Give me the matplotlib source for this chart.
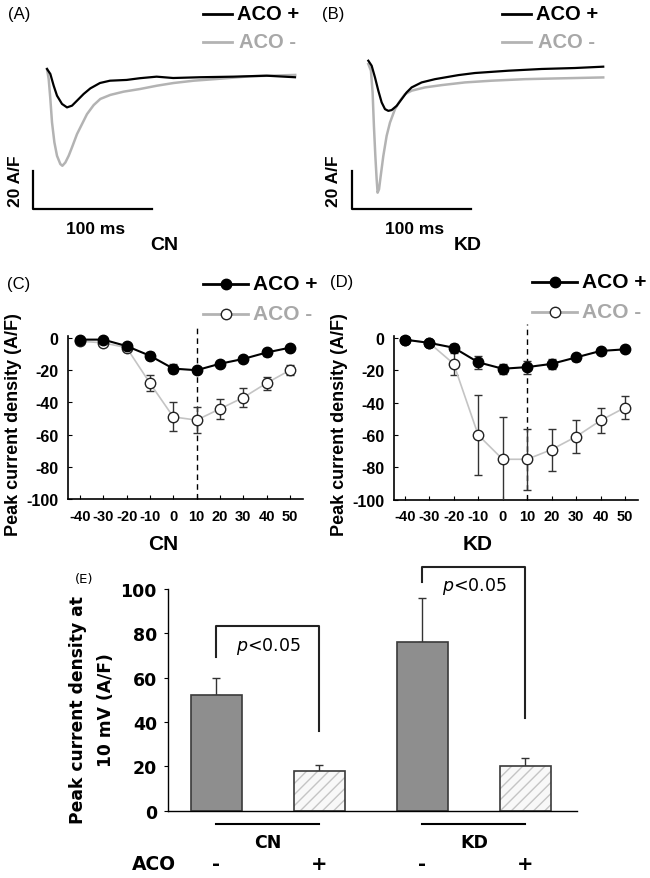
import numpy as np
import matplotlib
matplotlib.use("Agg")
import matplotlib.pyplot as plt
from matplotlib.lines import Line2D

plt.rcParams['axes.unicode_minus'] = False
plt.rcParams['hatch.linewidth'] = 1.0

W, H = 650, 879
ARIAL = 'Liberation Sans'
DV = 'DejaVu Sans'
BLACK = '#000000'
GREY = '#b3b3b3'
GREY_TXT = '#a8a8a8'

A_t_pos = [0, 2.8, 5.6, 8.4, 12.6, 16.8, 21, 25.2, 30.8, 36.4, 44.5, 52.9, 66.9, 78.1, 92.1, 106, 128.6, 156.6, 184.6, 208.4]
A_i_pos = [3.8, 1.2, -4.9, -10.1, -14.4, -16.2, -15.3, -12.7, -9.2, -6.3, -3.5, -2.3, -1.9, -1.0, -0.2, -0.9, -0.5, -0.2, 0.3, -0.5]
A_t_neg = [0, 1.4, 2.8, 4.2, 6.2, 8.4, 11.2, 12.9, 15.4, 18.2, 21, 25.2, 29.4, 33.6, 39.2, 44.8, 53.2, 64.4, 78.4, 92.4, 106.4, 123.2, 142.8, 170.8, 208.6]
A_i_neg = [3.8, -1.4, -11.8, -24.0, -34.4, -41.4, -45.7, -46.6, -44.9, -41.4, -37.0, -30.1, -24.9, -19.7, -15.0, -11.8, -9.7, -8.0, -6.6, -4.9, -3.5, -2.3, -1.4, 0.0, 0.7]

B_t_pos = [0, 2.8, 5.6, 8.4, 11.2, 14, 16.8, 19.6, 23.8, 28, 32.2, 36.4, 44.8, 56, 75.6, 89.6, 117.6, 145.6, 173.6, 197.4]
B_i_pos = [2.6, 0, -6.1, -13.0, -19.1, -22.6, -23.5, -23.1, -20.9, -17.4, -13.9, -11.3, -8.7, -7.0, -4.9, -3.8, -2.6, -1.7, -1.2, -0.5]
B_t_neg = [0, 2.2, 3.6, 4.7, 5.9, 7.0, 7.8, 9.0, 10.4, 12.6, 15.4, 18.2, 22.4, 26.6, 30.8, 36.4, 47.6, 61.6, 81.2, 103.6, 131.6, 159.6, 197.4]
B_i_neg = [0.9, -2.6, -13.9, -31.3, -47.0, -59.1, -66.1, -64.3, -57.4, -47.0, -36.5, -29.6, -22.6, -18.3, -14.8, -13.0, -11.3, -10.1, -8.7, -7.8, -7.0, -6.6, -6.1]

# ---- I-V curves (mV, A/F)
volts = [-40, -30, -20, -10, 0, 10, 20, 30, 40, 50]
CN_pos = [-1, -1, -5, -11, -19, -20, -16, -13, -9, -6]
CN_pos_err = [1, 1, 1, 2, 3, 2, 2, 2, 2, 1]
CN_neg = [-2, -3, -6, -28, -49, -51, -44, -37, -28, -20]
CN_neg_err = [1, 1, 1, 5, 9, 8, 6, 6, 4, 3]
KD_pos = [-1, -3, -6, -15, -19, -18, -16, -12, -8, -7]
KD_pos_err = [1, 1, 2, 4, 3, 4, 3, 2, 2, 1]
KD_neg = [-1, -3, -16, -60, -75, -75, -69, -61, -51, -43]
KD_neg_err = [1, 1, 7, 25, 26, 19, 13, 10, 8, 7]
iv_yticks = [0, -20, -40, -60, -80, -100]

# ---- bar chart at 10 mV
bar_groups = ['CN', 'CN', 'KD', 'KD']
bar_aco = ['-', '+', '-', '+']
bar_mean = [52, 18, 76, 20]
bar_err = [8, 2.5, 20, 3.6]
brk_left_low = [69.3, 103]
brk_top = [83.2, 109.8]
brk_right_low = [35.8, 42]
p_text_y = [74.4, 101.6]
e_yticks = [0, 20, 40, 60, 80, 100]

fig = plt.figure(figsize=(W / 100, H / 100), dpi=100)


def px_axes(x0, y0, x1, y1):
    return fig.add_axes([x0 / W, 1 - y1 / H, (x1 - x0) / W, (y1 - y0) / H])


def ftext(x, y, s, **kw):
    kw.setdefault('ha', 'center')
    kw.setdefault('va', 'center')
    return fig.text(x / W, 1 - y / H, s, **kw)


def fline(xs, ys, **kw):
    fig.add_artist(Line2D([x / W for x in xs], [1 - y / H for y in ys],
                          transform=fig.transFigure, **kw))


# ================= traces A, B
def trace_panel(box, xlim, ylim, tp, ip, tn, iln, bar_x, bar_y):
    ax = px_axes(*box)
    ax.plot(tn, iln, color=GREY, lw=1.8, solid_joinstyle='round')
    ax.plot(tp, ip, color=BLACK, lw=1.6, solid_joinstyle='round')
    # scale bars: 100 ms x 20 A/F
    ax.plot([bar_x, bar_x, bar_x + 100], [bar_y + 20, bar_y, bar_y], color=BLACK, lw=1.6)
    ax.set_xlim(*xlim)
    ax.set_ylim(*ylim)
    ax.axis('off')
    return ax


trace_panel((20, 55, 310, 215), (-22.7, 221), (-71.7, 11.6),
            A_t_pos, A_i_pos, A_t_neg, A_i_neg, -11.8, -69.1)
trace_panel((340, 50, 630, 215), (-23.8, 219.9), (-77.2, 8.7),
            B_t_pos, B_i_pos, B_t_neg, B_i_neg, -13.4, -74.6)

for (lx, tag, leg_x, lab, labx, sbx) in [(19, '(A)', 203, 'CN', 164, 15),
                                         (333, '(B)', 502, 'KD', 468, 334)]:
    ftext(lx, 15, tag, fontsize=12, family=ARIAL)
    fline([leg_x, leg_x + 29], [15, 15], color=BLACK, lw=2)
    ftext(leg_x + 34, 15, 'ACO +', ha='left', fontsize=14.5, fontweight='bold', family=ARIAL)
    fline([leg_x, leg_x + 29], [43, 43], color=GREY, lw=2)
    ftext(leg_x + 36, 43, 'ACO -', ha='left', fontsize=14.5, fontweight='bold',
          family=ARIAL, color=GREY_TXT)
    ftext(sbx, 181, '20 A/F', rotation=90, fontsize=12.5, fontweight='bold', family=ARIAL)
    ftext(sbx + 81, 230, '100 ms', fontsize=12.5, fontweight='bold', family=ARIAL)
    ftext(labx, 246, lab, fontsize=14, fontweight='bold', family=ARIAL)


# ================= I-V panels C, D
def iv_panel(box, xlim, pos, pos_err, neg, neg_err):
    ax = px_axes(*box)
    ax.plot([10, 10], [-100, 8.7], color=BLACK, lw=1, ls=(0, (4, 3)), clip_on=False)
    ax.errorbar(volts, neg, yerr=neg_err, color='#c4c4c4', lw=1.2, ecolor='#333333',
                elinewidth=1, capsize=3, capthick=1, marker='o', ms=7.5,
                mfc='white', mec='#222222', mew=1, clip_on=True, zorder=3)
    ax.errorbar(volts, pos, yerr=pos_err, color=BLACK, lw=1.5, ecolor='#333333',
                elinewidth=1, capsize=3, capthick=1, marker='o', ms=7.5,
                mfc=BLACK, mec=BLACK, clip_on=False, zorder=4)
    ax.set_xlim(*xlim)
    ax.set_ylim(-100, 1)
    for s in ('top', 'right'):
        ax.spines[s].set_visible(False)
    for s in ('left', 'bottom'):
        ax.spines[s].set_linewidth(1.2)
    ax.set_xticks(volts)
    ax.set_xticklabels([str(v) for v in volts])
    ax.set_yticks(iv_yticks)
    ax.set_yticklabels([str(v) for v in iv_yticks])
    ax.tick_params(axis='x', direction='in', length=3, pad=7, labelsize=10.5)
    ax.tick_params(axis='y', direction='in', length=3, pad=7, labelsize=11.5)
    for t in ax.get_xticklabels() + ax.get_yticklabels():
        t.set_fontfamily(ARIAL)
        t.set_fontweight('bold')
    return ax


iv_panel((68, 337.4, 303, 500), (-45.1, 55.6), CN_pos, CN_pos_err, CN_neg, CN_neg_err)
iv_panel((394, 337.4, 638, 500.7), (-44.4, 55.3), KD_pos, KD_pos_err, KD_neg, KD_neg_err)

for (lx, tag, leg_x, lab, labx, ylx, ly) in [(19, '(C)', 203, 'CN', 163, 14, 285),
                                             (342, '(D)', 532, 'KD', 478, 339, 283)]:
    ftext(lx, ly, tag, fontsize=12, family=ARIAL)
    ly2 = ly + 30
    fline([leg_x, leg_x + 45], [ly, ly], color=BLACK, lw=2)
    fline([leg_x + 22.5], [ly], marker='o', ms=7.5, color=BLACK)
    fline([leg_x, leg_x + 45], [ly2, ly2], color=GREY, lw=2)
    fline([leg_x + 22.5], [ly2], marker='o', ms=7.5, mfc='white', mec='#222222', mew=1)
    ftext(leg_x + 50, ly, 'ACO +', ha='left', fontsize=15, fontweight='bold', family=ARIAL)
    ftext(leg_x + 50, ly2, 'ACO -', ha='left', fontsize=15, fontweight='bold',
          family=ARIAL, color=GREY_TXT)
    ftext(ylx, 425, 'Peak current density (A/F)', rotation=90, fontsize=13,
          fontweight='bold', family=ARIAL)
    ftext(labx, 544, lab, fontsize=15, fontweight='bold', family=ARIAL)

# ================= bar panel E
ax = px_axes(168, 590, 577, 811.7)
xs = np.arange(len(bar_mean))
for i in xs:
    if bar_aco[i] == '-':
        ax.bar(i, bar_mean[i], width=0.5, color='#8e8e8e', edgecolor='#3a3a3a', lw=1.2, zorder=2)
    else:
        # hatch takes the edge colour, so draw fill+hatch first, outline on top
        ax.bar(i, bar_mean[i], width=0.5, facecolor='#f8f8f8', edgecolor='#c4c4c4', lw=0,
               hatch='///', zorder=2)
        ax.bar(i, bar_mean[i], width=0.5, fill=False, edgecolor='#3a3a3a', lw=1.2, zorder=2)
    ax.errorbar(i, bar_mean[i], yerr=[[0], [bar_err[i]]], color='#333333', elinewidth=1,
                capsize=3, capthick=1, zorder=1)

for g in range(2):
    l, r = 2 * g, 2 * g + 1
    ax.plot([l, l, r, r], [brk_left_low[g], brk_top[g], brk_top[g], brk_right_low[g]],
            color='#222222', lw=1.5, clip_on=False)
    ax.text(l + 0.5, p_text_y[g], r'$\it{p}$<0.05', ha='center', va='center', fontsize=12.5,
            family=DV)
    ax.plot([l, r], [-6, -6], color=BLACK, lw=1.5, clip_on=False)
    ax.text(l + 0.5, -14, bar_groups[l], ha='center', va='center', fontsize=12.5,
            fontweight='bold', family=DV)
for i in xs:
    ax.text(i, -24, bar_aco[i], ha='center', va='center', fontsize=14,
            fontweight='bold', family=DV)
ax.text(-0.61, -24, 'ACO', ha='center', va='center', fontsize=13.5, fontweight='bold',
        family=DV)

ax.set_xlim(-0.47, 3.5)
ax.set_ylim(0, 100)
ax.set_xticks([])
ax.set_yticks(e_yticks)
ax.set_yticklabels([str(v) for v in e_yticks])
ax.tick_params(axis='y', direction='out', length=3, pad=5, labelsize=12.5)
for t in ax.get_yticklabels():
    t.set_fontweight('bold')
for s in ('top', 'right'):
    ax.spines[s].set_visible(False)
ax.spines['left'].set_linewidth(1)
ax.spines['bottom'].set_linewidth(1)

ftext(84, 580, '(E)', fontsize=9.5, family=DV)
ftext(78, 710, 'Peak current density at', rotation=90, fontsize=12.3, fontweight='bold', family=DV)
ftext(106, 710, '10 mV (A/F)', rotation=90, fontsize=12.3, fontweight='bold', family=DV)

fig.savefig('out.png', dpi=100)
